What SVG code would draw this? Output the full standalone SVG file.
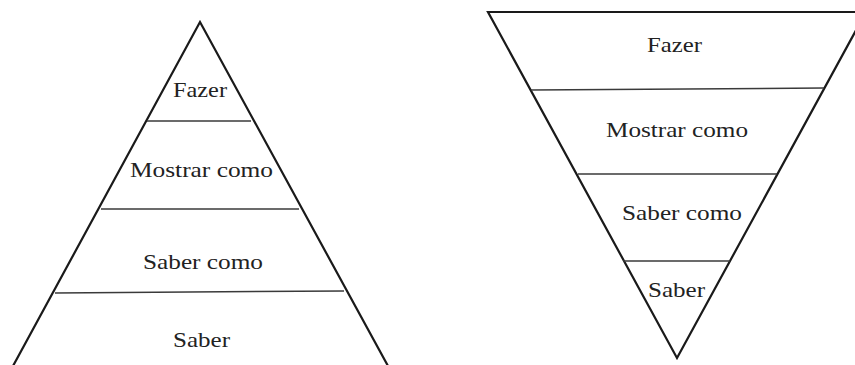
<svg xmlns="http://www.w3.org/2000/svg" width="855" height="365" viewBox="0 0 855 365">
<style>
.edge{fill:none;stroke:#1a1a1a;stroke-width:2.2;stroke-linejoin:miter}
.sep{stroke:#3a3a3a;stroke-width:1.5}
.lbl{font-family:"Liberation Serif","Times New Roman",serif;font-size:22px;fill:#222}
</style>
<rect width="855" height="365" fill="#fff"/>
<g id="pyramid">
<polyline class="edge" points="13,366 200,22 388,366"/>
<line class="sep" x1="147" y1="121" x2="251" y2="121"/>
<line class="sep" x1="101" y1="209" x2="299" y2="209"/>
<line class="sep" x1="55" y1="293" x2="344" y2="291"/>
</g>
<g id="pyr-fazer"><text class="lbl" x="173" y="97" textLength="54" lengthAdjust="spacingAndGlyphs">Fazer</text></g>
<g id="pyr-mostrar"><text class="lbl" x="130" y="177" textLength="143" lengthAdjust="spacingAndGlyphs">Mostrar como</text></g>
<g id="pyr-sabercomo"><text class="lbl" x="143" y="269" textLength="120" lengthAdjust="spacingAndGlyphs">Saber como</text></g>
<g id="pyr-saber"><text class="lbl" x="173" y="347" textLength="57" lengthAdjust="spacingAndGlyphs">Saber</text></g>
<g id="inverted">
<polygon class="edge" points="488,12 866,12 677,358"/>
<line class="sep" x1="531" y1="90" x2="824" y2="88"/>
<line class="sep" x1="578" y1="174" x2="777" y2="174"/>
<line class="sep" x1="623" y1="261" x2="730" y2="261"/>
</g>
<g id="inv-fazer"><text class="lbl" x="647" y="52" textLength="55" lengthAdjust="spacingAndGlyphs">Fazer</text></g>
<g id="inv-mostrar"><text class="lbl" x="606" y="137" textLength="142" lengthAdjust="spacingAndGlyphs">Mostrar como</text></g>
<g id="inv-sabercomo"><text class="lbl" x="622" y="220" textLength="120" lengthAdjust="spacingAndGlyphs">Saber como</text></g>
<g id="inv-saber"><text class="lbl" x="648" y="297" textLength="57" lengthAdjust="spacingAndGlyphs">Saber</text></g>
</svg>
